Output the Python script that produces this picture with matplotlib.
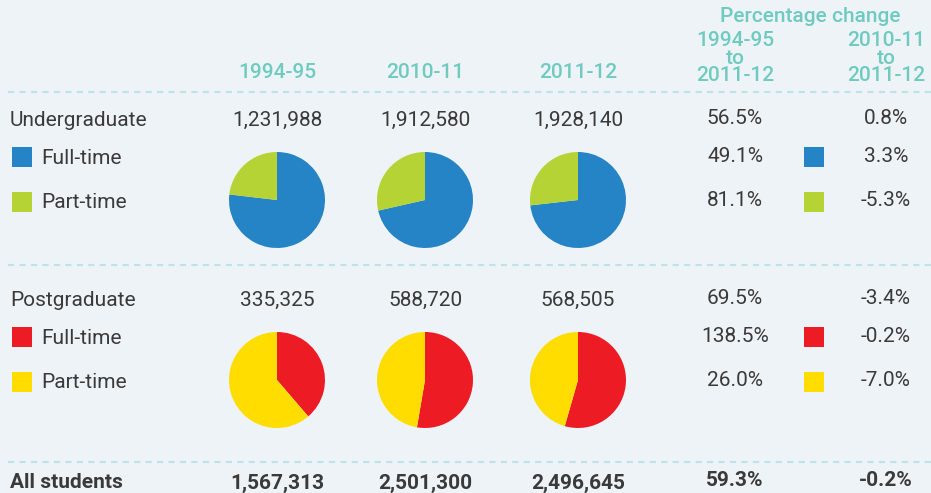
import matplotlib.pyplot as plt

# ---- data ----
years = ["1994-95", "2010-11", "2011-12"]
pct_headers = ["1994-95\nto\n2011-12", "2010-11\nto\n2011-12"]

ug_totals = ["1,231,988", "1,912,580", "1,928,140"]
ug_fulltime = [946800, 1366600, 1411700]
ug_parttime = [285200, 545900, 516400]
ug_pct_total = ["56.5%", "0.8%"]
ug_pct_ft = ["49.1%", "3.3%"]
ug_pct_pt = ["81.1%", "-5.3%"]

pg_totals = ["335,325", "588,720", "568,505"]
pg_fulltime = [129800, 310100, 309500]
pg_parttime = [205500, 278500, 259000]
pg_pct_total = ["69.5%", "-3.4%"]
pg_pct_ft = ["138.5%", "-0.2%"]
pg_pct_pt = ["26.0%", "-7.0%"]

all_totals = ["1,567,313", "2,501,300", "2,496,645"]
all_pct = ["59.3%", "-0.2%"]

# ---- style ----
W, H = 931, 493
BG = "#eef3f7"
TEAL = "#6fcbc0"
DASH = "#bde3ea"
TXT = "#3a3a3a"
UG_COLORS = ["#2584c6", "#b5d334"]
PG_COLORS = ["#ed1c24", "#ffdd00"]
FONT = "Roboto"
FS = 15

col_x = [277, 425, 578]
pct_x = [735, 886]
swatch_x = 814


def Y(p):
    # pixel row (top-down) -> data y
    return H - p


fig = plt.figure(figsize=(W / 100, H / 100), dpi=100, facecolor=BG)
ax = fig.add_axes([0, 0, 1, 1])
ax.set_facecolor(BG)


def text(x, y, s, ha="center", color=TXT, size=FS, weight="normal", **kw):
    ax.text(x, Y(y), s, ha=ha, va="center", color=color, fontsize=size,
            fontweight=weight, family=FONT, **kw)


def swatch(x, y, color):
    ax.add_patch(plt.Rectangle((x - 10, Y(y) - 10), 20, 20, color=color, lw=0))


# header
text(810, 17, "Percentage change", color=TEAL, weight="medium")
for x, h in zip(pct_x, pct_headers):
    text(x, 58, h, color=TEAL, weight="medium", linespacing=0.88)
for x, y in zip(col_x, years):
    text(x, 73, y, color=TEAL, weight="medium")

for y in [92, 265, 462]:
    ax.plot([8, W], [Y(y), Y(y)], color=DASH, lw=1.5, ls=(0, (3, 2.5)))


def section(top, name, totals, ft, pt, pct_total, pct_ft, pct_pt, colors):
    text(10, top, name, ha="left")
    swatch(22, top + 37, colors[0])
    swatch(22, top + 82, colors[1])
    text(41, top + 38, "Full-time", ha="left")
    text(41, top + 83, "Part-time", ha="left")
    for x, t, f, p in zip(col_x, totals, ft, pt):
        text(x, top, t)
        ax.pie([f, p], colors=colors, startangle=90, counterclock=False,
               center=(x, Y(top + 80)), radius=48,
               wedgeprops=dict(linewidth=0))
    for x, a, b, c in zip(pct_x, pct_total, pct_ft, pct_pt):
        text(x, top - 2, a)
        text(x, top + 36, b)
        text(x, top + 81, c)
    swatch(swatch_x, top + 37, colors[0])
    swatch(swatch_x, top + 82, colors[1])


section(120, "Undergraduate", ug_totals, ug_fulltime, ug_parttime,
        ug_pct_total, ug_pct_ft, ug_pct_pt, UG_COLORS)
section(300, "Postgraduate", pg_totals, pg_fulltime, pg_parttime,
        pg_pct_total, pg_pct_ft, pg_pct_pt, PG_COLORS)

# totals row
text(10, 483, "All students", ha="left", weight="bold")
for x, t in zip(col_x, all_totals):
    text(x, 483, t, weight="bold")
for x, t in zip(pct_x, all_pct):
    text(x, 480, t, weight="bold")

ax.set_xlim(0, W)
ax.set_ylim(0, H)
ax.set_aspect("auto")
ax.axis("off")

fig.savefig("out.png", dpi=100, facecolor=BG)
